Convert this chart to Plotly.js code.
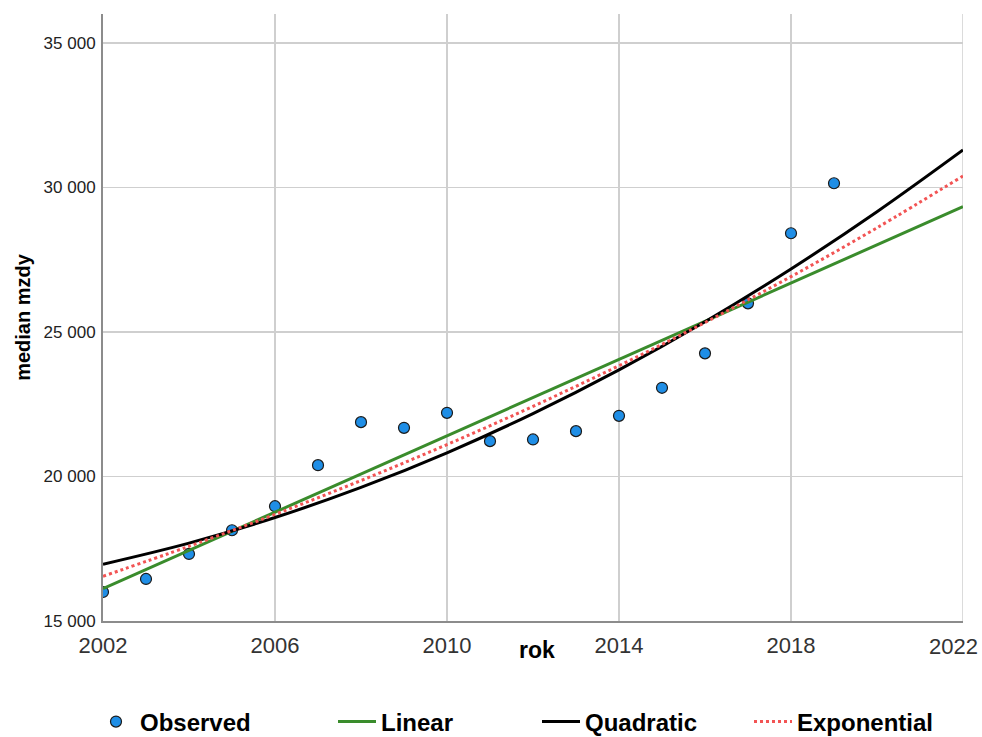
<!DOCTYPE html>
<html>
<head>
<meta charset="utf-8">
<script src="https://cdn.plot.ly/plotly-3.0.1.min.js"></script>
<style>html,body{margin:0;padding:0;background:#fff;}#chart{width:982px;height:737px;}</style>
</head>
<body>
<div id="chart"></div>
<script>
// Observed median wage by year
const years = [2002,2003,2004,2005,2006,2007,2008,2009,2010,2011,2012,2013,2014,2015,2016,2017,2018,2019];
const observed = [16004,16454,17320,18140,18971,20391,21880,21683,22202,21222,21281,21568,22098,23068,24259,25990,28414,30145];

// Fitted curves (every two years)
const fitYears = [2002,2004,2006,2008,2010,2012,2014,2016,2018,2020,2022];
const linearFit = [16122,17443,18765,20086,21407,22729,24050,25371,26692,28014,29335];
const quadraticFit = [16963,17693,18579,19621,20820,22175,23687,25355,27179,29160,31297];
const exponentialFit = [16548,17585,18688,19859,21104,22427,23833,25327,26915,28603,30396];

const xTicks = [2002,2006,2010,2014,2018,2022];
const yTicks = [15000,20000,25000,30000,35000];

const FONT = '"Liberation Sans", Arial, sans-serif';

const traces = [
  {x: years, y: observed, name: 'Observed', type: 'scatter', mode: 'markers',
   marker: {color: '#1f8ee6', size: 11, line: {color: '#1a1a1a', width: 1.2}}, legend: 'legend'},
  {x: fitYears, y: linearFit, name: 'Linear', type: 'scatter', mode: 'lines',
   line: {color: '#3a8c2c', width: 3}, legend: 'legend2'},
  {x: fitYears, y: quadraticFit, name: 'Quadratic', type: 'scatter', mode: 'lines',
   line: {color: '#000000', width: 3, shape: 'spline'}, legend: 'legend3'},
  {x: fitYears, y: exponentialFit, name: 'Exponential', type: 'scatter', mode: 'lines',
   line: {color: '#f25454', width: 3, dash: 'dot', shape: 'spline'}, legend: 'legend4'}
];

const legFont = {family: FONT, size: 24, color: '#000', weight: 'bold'};
const legBase = {orientation: 'h', yanchor: 'middle', xanchor: 'left', yref: 'container', y: 0.0204,
  xref: 'container', bgcolor: 'rgba(0,0,0,0)', font: legFont, borderwidth: 0, itemwidth: 38};

const lastX = xTicks[xTicks.length - 1];
// last tick label is drawn as an annotation pulled inside the figure edge
const xTickText = xTicks.map((v, i) => i === xTicks.length - 1 ? '' : String(v));
const tickFontX = {family: FONT, size: 22, color: '#333'};

const layout = {
  width: 982, height: 737,
  margin: {l: 103, r: 19, t: 14, b: 116},
  paper_bgcolor: '#fff', plot_bgcolor: '#fff',
  separators: ', ',
  font: {family: FONT, color: '#222'},
  showlegend: true,
  xaxis: {
    range: [2002, 2022], tickvals: xTicks, ticktext: xTickText,
    showgrid: true, gridcolor: '#cfcfcf', gridwidth: 1.5,
    showline: true, linecolor: '#8c8c8c', linewidth: 2, zeroline: false,
    ticks: '', tickfont: tickFontX,
    ticklabelstandoff: 4, ticklabeloverflow: 'allow'
  },
  yaxis: {
    range: [15000, 36000], tickvals: yTicks, tickformat: ',d',
    showgrid: true, gridcolor: '#cfcfcf', gridwidth: 1.5,
    showline: true, linecolor: '#8c8c8c', linewidth: 2, zeroline: false,
    ticks: '', tickfont: {family: FONT, size: 17, color: '#222'},
    ticklabelstandoff: 2,
    title: {text: 'median mzdy', font: {family: FONT, size: 20, color: '#000', weight: 'bold'}, standoff: 8}
  },
  shapes: [
    {type: 'line', xref: 'x', yref: 'paper', x0: lastX, x1: lastX, y0: 0, y1: 1,
     line: {color: '#cfcfcf', width: 1.5}, layer: 'below'}
  ],
  annotations: [
    {text: 'rok', xref: 'paper', yref: 'paper', x: 0.5047, y: -0.048, xanchor: 'center', yanchor: 'middle',
     showarrow: false, font: {family: FONT, size: 23, color: '#000', weight: 'bold'}},
    {text: String(lastX), xref: 'paper', yref: 'paper', x: (980 - 103) / 860, y: -0.0417,
     xanchor: 'right', yanchor: 'middle', showarrow: false, font: tickFontX}
  ],
  legend: Object.assign({}, legBase, {x: 92 / 982}),
  legend2: Object.assign({}, legBase, {x: 333 / 982}),
  legend3: Object.assign({}, legBase, {x: 537 / 982}),
  legend4: Object.assign({}, legBase, {x: 749 / 982})
};

Plotly.newPlot('chart', traces, layout, {displayModeBar: false, staticPlot: true});
</script>
</body>
</html>
